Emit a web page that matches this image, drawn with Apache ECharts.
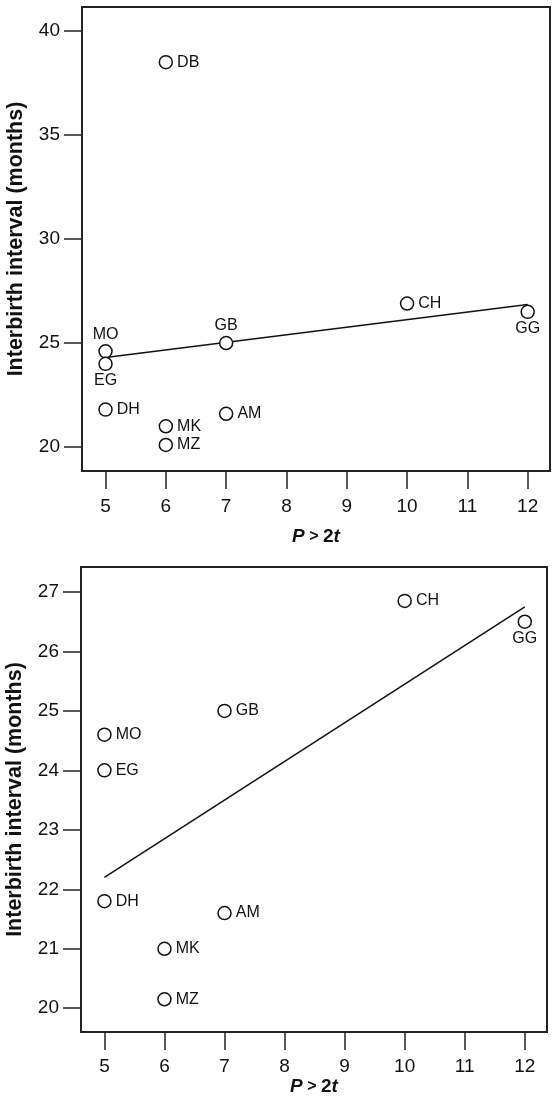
<!DOCTYPE html>
<html>
<head>
<meta charset="utf-8">
<script src="https://cdn.jsdelivr.net/npm/echarts@6/dist/echarts.min.js"></script>
<style>
html,body{margin:0;padding:0;background:#fff;}
#chart{width:553px;height:1103px;}
</style>
</head>
<body>
<div id="chart"></div>
<script>
// ---- data ----
const namesTop = ['DB','MO','EG','DH','MK','MZ','AM','GB','CH','GG'];
const pTop     = [6, 5, 5, 5, 6, 6, 7, 7, 10, 12];
const ibiTop   = [38.5, 24.6, 24.0, 21.8, 21.0, 20.1, 21.6, 25.0, 26.9, 26.5];

const namesBottom = ['MO','EG','DH','MK','MZ','AM','GB','CH','GG'];
const pBottom     = [5, 5, 5, 6, 6, 7, 7, 10, 12];
const ibiBottom   = [24.6, 24.0, 21.8, 21.0, 20.15, 21.6, 25.0, 26.85, 26.5];

const fitTopX = [5, 12];
const fitTopY = [24.3, 26.85];
const fitBottomX = [5, 12];
const fitBottomY = [22.2, 26.75];

const xTicks = [5, 6, 7, 8, 9, 10, 11, 12];
const yTicksTop = [20, 25, 30, 35, 40];
const yTicksBottom = [20, 21, 22, 23, 24, 25, 26, 27];

const yTitle = 'Interbirth interval (months)';

// ---- styling ----
const FONT = 'Liberation Sans, Arial, Helvetica, sans-serif';
const labelPosTop = {MO:'top', EG:'bottom', GB:'top', GG:'bottom'};
const labelPosBottom = {GG:'bottom'};

function points(names, xs, ys, posMap) {
  return names.map((n, i) => {
    const pos = posMap[n] || 'right';
    return {
      name: n,
      value: [xs[i], ys[i]],
      label: {position: pos, distance: pos === 'right' ? 4 : 2}
    };
  });
}

function xAxis(gridIndex, labelMargin, nameGap) {
  return {
    type: 'value', gridIndex: gridIndex,
    min: 4.61, max: 12.37,
    axisLine: {show: false},
    splitLine: {show: false},
    axisTick: {show: true, inside: false, length: 18, lineStyle: {color: '#222', width: 1.5}, customValues: xTicks},
    axisLabel: {show: true, margin: labelMargin, color: '#111', fontSize: 19, fontFamily: FONT, customValues: xTicks},
    name: '{i|P}{s| > }{n|2}{i|t}',
    nameLocation: 'middle',
    nameGap: nameGap,
    nameTextStyle: {
      rich: {
        i: {fontFamily: FONT, fontSize: 19, fontWeight: 'bold', fontStyle: 'italic', color: '#111'},
        n: {fontFamily: FONT, fontSize: 19, fontWeight: 'bold', color: '#111'},
        s: {fontFamily: FONT, fontSize: 16, fontWeight: 'bold', color: '#111'}
      }
    }
  };
}

function yAxis(gridIndex, min, max, ticks) {
  return {
    type: 'value', gridIndex: gridIndex,
    min: min, max: max,
    axisLine: {show: false},
    splitLine: {show: false},
    axisTick: {show: true, inside: false, length: 18, lineStyle: {color: '#222', width: 1.5}, customValues: ticks},
    axisLabel: {show: true, margin: 22, color: '#111', fontSize: 19, fontFamily: FONT, customValues: ticks},
    name: yTitle,
    nameLocation: 'middle',
    nameGap: 55,
    nameTextStyle: {fontFamily: FONT, fontSize: 21.5, fontWeight: 'bold', color: '#111'}
  };
}

const scatterStyle = {
  type: 'scatter',
  symbol: 'circle',
  symbolSize: 13,
  itemStyle: {color: '#fff', borderColor: '#111', borderWidth: 1.5, opacity: 1},
  label: {show: true, formatter: '{b}', color: '#111', fontSize: 16, fontFamily: FONT},
  emphasis: {disabled: true},
  z: 3
};

const chart = echarts.init(document.getElementById('chart'), null, {renderer: 'canvas'});
chart.setOption({
  animation: false,
  backgroundColor: '#fff',
  grid: [
    {left: 82, top: 7, width: 468, height: 464, show: true, borderColor: '#222', borderWidth: 2,
     backgroundColor: 'transparent', containLabel: false, outerBoundsMode: 'none'},
    {left: 81, top: 567, width: 466, height: 465, show: true, borderColor: '#222', borderWidth: 2,
     backgroundColor: 'transparent', containLabel: false, outerBoundsMode: 'none'}
  ],
  xAxis: [xAxis(0, 26, 56), xAxis(1, 25, 45)],
  yAxis: [yAxis(0, 18.85, 41.15, yTicksTop), yAxis(1, 19.6, 27.42, yTicksBottom)],
  series: [
    Object.assign({}, scatterStyle, {xAxisIndex: 0, yAxisIndex: 0, data: points(namesTop, pTop, ibiTop, labelPosTop)}),
    {type: 'line', xAxisIndex: 0, yAxisIndex: 0, symbol: 'none', silent: true,
     lineStyle: {color: '#111', width: 1.5}, data: fitTopX.map((x, i) => [x, fitTopY[i]]), z: 2},
    Object.assign({}, scatterStyle, {xAxisIndex: 1, yAxisIndex: 1, data: points(namesBottom, pBottom, ibiBottom, labelPosBottom)}),
    {type: 'line', xAxisIndex: 1, yAxisIndex: 1, symbol: 'none', silent: true,
     lineStyle: {color: '#111', width: 1.5}, data: fitBottomX.map((x, i) => [x, fitBottomY[i]]), z: 2}
  ]
});
</script>
</body>
</html>
